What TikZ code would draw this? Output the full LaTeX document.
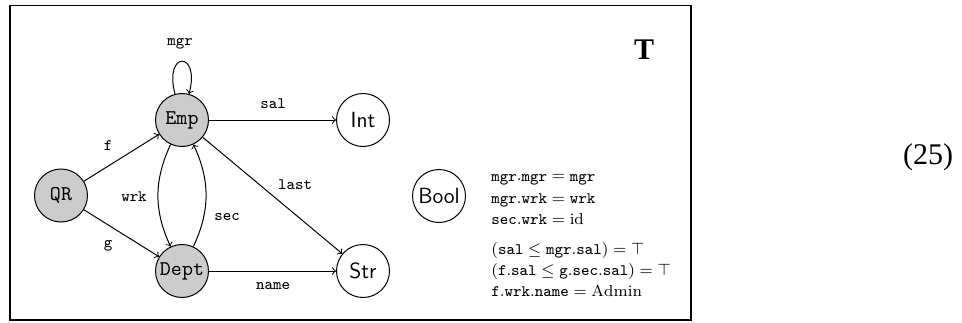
\documentclass[tikz,border=0pt]{standalone}
\usepackage{fontspec}
\newfontfamily\serifT{Liberation Serif}
\usetikzlibrary{arrows}
\begin{document}
\begin{tikzpicture}[x=0.5pt,y=0.5pt,
  state/.style={circle,draw,line width=0.5pt,minimum size=26.5pt,inner sep=0pt},
  obj/.style={state,fill=black!20,font=\fontsize{10.5}{12}\selectfont\ttfamily},
  dat/.style={state,font=\fontsize{11}{13}\selectfont\sffamily},
  lbl/.style={font=\fontsize{8}{9}\selectfont\ttfamily,inner sep=0pt},
  eq/.style={anchor=base west,font=\fontsize{8}{9}\selectfont,inner sep=0pt},
  arr/.style={->,line width=0.5pt}]
\useasboundingbox (0,0) rectangle (962,322);
\draw[line width=0.6pt] (10,2) rectangle (691,316.5);
\node[obj] (QR) at (61,126.5) {QR};
\node[obj] (Emp) at (182,202) {Emp};
\node[obj] (Dept) at (182,51) {Dept};
\node[dat] (Int) at (363,202) {Int};
\node[dat] (Str) at (363,51) {Str};
\node[dat] (Bool) at (439,126) {Bool};
\draw[arr] (QR) -- (Emp);
\draw[arr] (QR) -- (Dept);
\draw[arr] (Emp) -- (Int);
\draw[arr] (Emp) -- (Str);
\draw[arr] (Dept) -- (Str);
\draw[arr] (Emp) to[bend right=25] (Dept);
\draw[arr] (Dept) to[bend right=25] (Emp);
\draw[arr] (Emp.105) .. controls +(105:22.5pt) and +(75:22.5pt) .. (Emp.75);
\node[lbl] (lmgr) at (180,278) {mgr};
\node[lbl] (lf) at (108,176) {f};
\node[lbl] (lg) at (108,76) {g};
\node[lbl] (lsal) at (273,218) {sal};
\node[lbl] (llast) at (295,137) {last};
\node[lbl] (lwrk) at (134,125) {wrk};
\node[lbl] (lsec) at (227,105) {sec};
\node[lbl] (lname) at (273,36) {name};
\node[font=\serifT\bfseries\fontsize{15}{18}\selectfont] (title) at (644,272) {T};
\node[font=\serifT\fontsize{15}{18}\selectfont] (num) at (928,164.5) {(25)};
\node[eq] (e1) at (491,141) {$\mathtt{mgr}.\mathtt{mgr}=\mathtt{mgr}$};
\node[eq] (e2) at (491,119) {$\mathtt{mgr}.\mathtt{wrk}=\mathtt{wrk}$};
\node[eq] (e3) at (491,98) {$\mathtt{sec}.\mathtt{wrk}=\mathrm{id}$};
\node[eq] (e4) at (491,68) {$(\mathtt{sal}\leq\mathtt{mgr}.\mathtt{sal})=\top$};
\node[eq] (e5) at (491,47) {$(\mathtt{f}.\mathtt{sal}\leq\mathtt{g}.\mathtt{sec}.\mathtt{sal})=\top$};
\node[eq] (e6) at (491,26) {$\mathtt{f}.\mathtt{wrk}.\mathtt{name}=\mathrm{Admin}$};
\end{tikzpicture}
\end{document}
